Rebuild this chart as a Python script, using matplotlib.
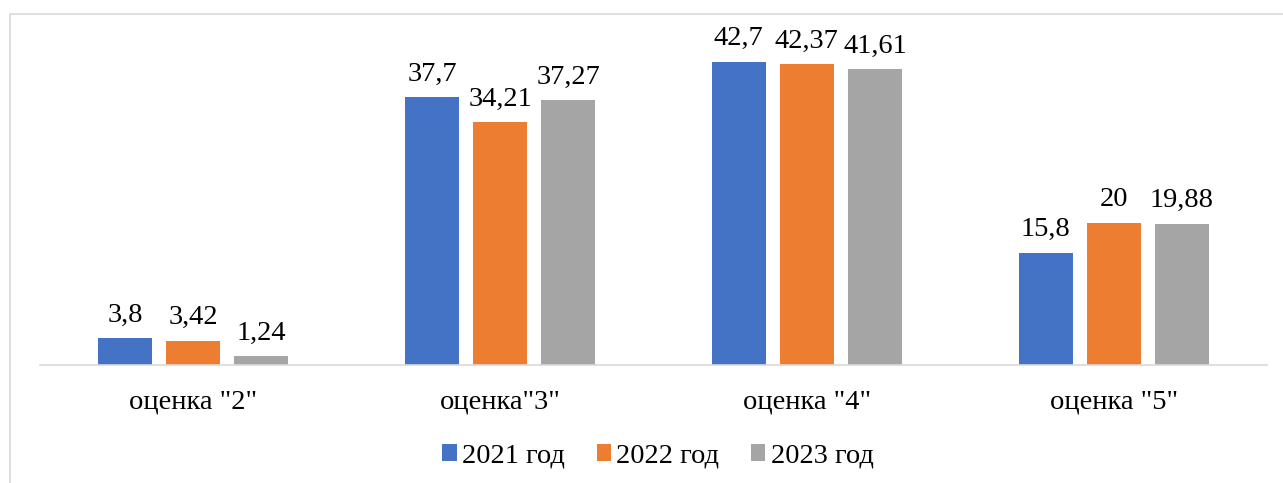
import matplotlib
matplotlib.use('Agg')
import matplotlib.pyplot as plt
import matplotlib.patches as mpatches
import numpy as np

categories = ['оценка "2"', 'оценка"3"', 'оценка "4"', 'оценка "5"']
series = ['2021 год', '2022 год', '2023 год']
v2021 = [3.8, 37.7, 42.7, 15.8]
v2022 = [3.42, 34.21, 42.37, 20]
v2023 = [1.24, 37.27, 41.61, 19.88]
labels2021 = ['3,8', '37,7', '42,7', '15,8']
labels2022 = ['3,42', '34,21', '42,37', '20']
labels2023 = ['1,24', '37,27', '41,61', '19,88']

COLORS = ['#4472C4', '#ED7D31', '#A5A5A5']
GRID = '#D9D9D9'
FONT = 'Liberation Serif'
FS = 20.5

plt.rcParams['font.family'] = [FONT, 'DejaVu Serif']

W, H = 1283, 483
fig = plt.figure(figsize=(W / 100, H / 100), dpi=100, facecolor='white')

# chart frame (cropped at right and bottom like the source)
fig.patches.append(mpatches.Rectangle((10 / W, -0.1), 1.2, 1 - 14 / H + 0.1,
                                      transform=fig.transFigure, fill=False,
                                      edgecolor=GRID, linewidth=1.2))

ax = fig.add_axes([40 / W, 118 / H, 1227 / W, 341 / H])
ax.set_xlim(-0.5, 3.5)
ax.set_ylim(0, 48)

x = np.arange(len(categories))
step = 0.2217
width = 0.176
all_vals = [v2021, v2022, v2023]
all_labels = [labels2021, labels2022, labels2023]
for i, (vals, labs) in enumerate(zip(all_vals, all_labels)):
    bars = ax.bar(x + (i - 1) * step, vals, width, color=COLORS[i],
                  label=series[i], zorder=2)
    for b, lab in zip(bars, labs):
        ax.annotate(lab, (b.get_x() + b.get_width() / 2, b.get_height()),
                    xytext=(0, 7.5), textcoords='offset points',
                    ha='center', va='bottom', fontsize=FS, color='black')

for s in ['top', 'right', 'left']:
    ax.spines[s].set_visible(False)
ax.spines['bottom'].set_color(GRID)
ax.spines['bottom'].set_linewidth(1.2)
ax.set_yticks([])
ax.set_xticks(x)
ax.set_xticklabels(categories, fontsize=FS)
ax.tick_params(axis='x', length=0, pad=18)

handles = [mpatches.Patch(facecolor=c, label=s) for c, s in zip(COLORS, series)]
fig.legend(handles=handles, loc='center', bbox_to_anchor=(658 / W, 1 - 456 / H),
           ncol=3, frameon=False, fontsize=FS, handlelength=0.5,
           handleheight=0.5, handletextpad=0.2, columnspacing=1.1,
           borderpad=0)

fig.savefig('out.png', dpi=100, facecolor='white')
